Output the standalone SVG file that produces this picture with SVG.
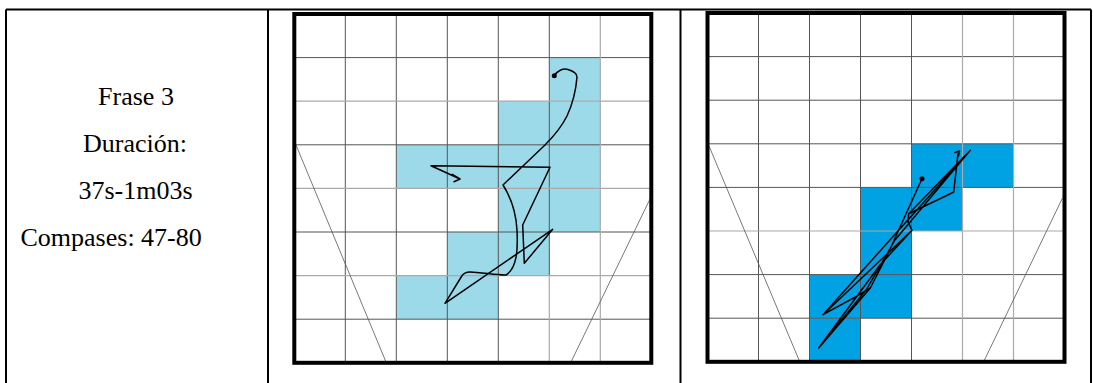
<svg xmlns="http://www.w3.org/2000/svg" width="1093" height="383" viewBox="0 0 1093 383">
<style>
.tbl{stroke:#000;stroke-width:2;fill:none}
.grid{stroke:#555;stroke-width:1;fill:none}
.gridl{stroke:#aaa;stroke-width:1.2;fill:none}
.trap{stroke:#555;stroke-width:0.8;fill:none}
.frame{stroke:#000;stroke-width:4;fill:none}
.trace{stroke:#000;stroke-width:1.5;fill:none;stroke-linejoin:round;stroke-linecap:round}
.lb{fill:#9cd9e9}
.db{fill:#00a2e3}
.t{font-family:"Liberation Serif","Times New Roman",serif;font-size:26px;fill:#000}
</style>
<rect width="1093" height="383" fill="#fff"/>
<g id="table">
<path class="tbl" d="M6,9.5 H1091 M6,9.5 V383 M1091,9.5 V383 M268,9.5 V383 M680.5,9.5 V383"/>
</g>
<g id="label">
<text class="t" x="136" y="105" text-anchor="middle">Frase 3</text>
<text class="t" x="135" y="152" text-anchor="middle">Duración:</text>
<text class="t" x="135.5" y="199" text-anchor="middle">37s-1m03s</text>
<text class="t" x="20.5" y="246">Compases: 47-80</text>
</g>
<g id="grid1">
<rect class="lb" x="549.3" y="57.6" width="51" height="43.6"/>
<rect class="lb" x="498.3" y="101.2" width="102" height="43.6"/>
<rect class="lb" x="396.3" y="144.8" width="204" height="43.6"/>
<rect class="lb" x="498.3" y="188.4" width="102" height="43.6"/>
<rect class="lb" x="447.3" y="232" width="102" height="43.6"/>
<rect class="lb" x="396.3" y="275.6" width="102" height="43.6"/>
<path class="grid" d="M345.3,14 V362.8 M396.3,14 V362.8 M447.3,14 V362.8 M498.3,14 V362.8 M549.3,14 V275.6 M294.3,57.6 H651.3 M294.3,144.8 H651.3 M294.3,232 H651.3 M294.3,319.2 H651.3"/>
<path class="gridl" d="M549.3,275.6 V362.8 M600.3,14 V362.8 M294.3,101.2 H651.3 M294.3,188.4 H651.3 M294.3,275.6 H651.3"/>
<path class="trap" d="M296,145 L386,362 M650.5,198 L571,362"/>
<rect class="frame" x="294.3" y="14" width="357" height="348.8"/>
<path class="trace" d="M554.3,75.7 C557,71 563,68 568,69.5 C573,71 577,73 577,77 C576,90 573,103 567,116 C561,128 553,137 545,145 L503,185 C510,196 516,212 517,230 C518,250 517,268 506,275 C498,275.5 480,272 470,272 C465,272 463,274 461.5,276.5 L445,303.3 L552.7,229.3 L524.3,263.3 L522.7,225 L550,167.3 L431,165.7 L460,179 M452.3,174.3 L460,179 L454,181.7"/>
<circle cx="554.3" cy="75.7" r="2.5" fill="#000"/>
</g>
<g id="grid2">
<rect class="db" x="911.5" y="143.8" width="102" height="43.6"/>
<rect class="db" x="860.5" y="187.4" width="102" height="43.6"/>
<rect class="db" x="860.5" y="231" width="51" height="43.6"/>
<rect class="db" x="809.5" y="274.6" width="102" height="43.6"/>
<rect class="db" x="809.5" y="318.2" width="51" height="43.6"/>
<path class="grid" d="M758.5,13 V361.8 M809.5,13 V361.8 M860.5,13 V361.8 M911.5,13 V361.8 M707.5,56.6 H1064.5 M707.5,100.2 H1064.5 M707.5,143.8 H1064.5 M707.5,187.4 H1064.5 M707.5,274.6 H1064.5 M707.5,318.2 H1064.5"/>
<path class="gridl" d="M962.5,13 V361.8 M1013.5,13 V361.8 M707.5,231 H1064.5"/>
<path class="trap" d="M709,146 L799,360 M1062.5,198 L984,361"/>
<rect class="frame" x="707.5" y="13" width="357" height="348.8"/>
<path class="trace" d="M922,178.7 L888.7,252 L870.3,288 L855.3,297 L823,314.7 L912,230.3 L908,222 L908.7,213.7 L950.3,193.7 L953.7,192 L958,153.7 M955,152.5 L959.5,151 L958.5,156 M970.3,150.3 L908.7,213.7 M970.3,150.3 L823,314.7 M970.3,150.3 L895,240 L867,288.7 L818.7,348 L870.3,288 M818.7,348 L880,265 L912,230.3"/>
<circle cx="922" cy="178.7" r="2.5" fill="#000"/>
</g>
</svg>
